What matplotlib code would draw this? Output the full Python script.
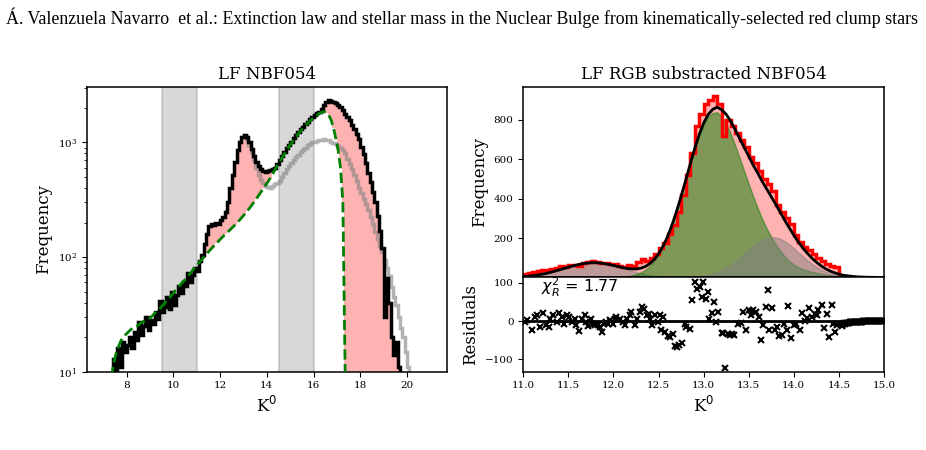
import numpy as np
import matplotlib
matplotlib.use("Agg")
import matplotlib.pyplot as plt

plt.rcParams["font.family"] = "DejaVu Serif"
plt.rcParams["axes.linewidth"] = 1.1
plt.rcParams["xtick.labelsize"] = 7.5
plt.rcParams["ytick.labelsize"] = 7.5

# ---- left panel: luminosity function, bins of 0.1 mag ----
lf_first, lf_width = 7.3, 0.1
lf_counts = [
    8, 13, 10, 16, 11, 18, 15, 17, 20, 16,
    22, 19, 27, 21, 25, 30, 23, 28, 26, 33,
    29, 41, 33, 37, 45, 35, 50, 38, 47, 56,
    49, 60, 56, 72, 61, 70, 80, 76, 92, 105,
    130, 160, 185, 195, 190, 200, 195, 210, 225, 245,
    300, 400, 520, 680, 850, 1000, 1120, 1170, 1120, 1000,
    880, 760, 680, 620, 580, 560, 555, 560, 570, 585,
    600, 645, 700, 760, 820, 885, 950, 1015, 1085, 1155,
    1225, 1300, 1370, 1440, 1515, 1590, 1660, 1725, 1790, 1850,
    1950, 2100, 2250, 2320, 2300, 2270, 2200, 2130, 2040, 1900,
    1780, 1660, 1560, 1430, 1310, 1190, 1060, 920, 790, 660,
    540, 450, 370, 300, 230, 170, 120, 30, 65, 40,
    20, 14, 18, 11, 8,
]
# second (grey) LF, starts at 12.9
lf_grey_first = 12.9
lf_grey = [
    1120, 1150, 1080, 950, 820, 700, 600, 520, 470, 440,
    420, 410, 400, 420, 430, 440, 460, 500, 540, 580,
    620, 660, 700, 740, 780, 820, 860, 900, 940, 970,
    1000, 1010, 1020, 1040, 1050, 1060, 1050, 1040, 1010, 990,
    960, 930, 900, 850, 800, 720, 650, 580, 520, 460,
    400, 360, 320, 290, 255, 225, 195, 165, 145, 125,
    110, 95, 80, 68, 55, 45, 38, 30, 24, 20,
    15, 11, 8,
]
# RGB fit (green dashed), at the bin centres from 7.35
rgb_fit = [
    9, 12, 14.5, 16.5, 18.5, 20, 21, 22, 23, 24,
    24.5, 25, 26, 27, 27.5, 28.5, 29, 30, 31.5, 33,
    34.5, 36, 38, 40, 42, 44.5, 47, 50, 53, 56,
    59, 62, 65, 69, 73, 78, 82, 87, 92, 97,
    102, 108, 114, 120, 126, 132, 139, 146, 153, 160,
    167, 175, 183, 192, 202, 212, 224, 237, 251, 266,
    283, 302, 322, 345, 370, 397, 425, 455, 490, 530,
    580, 630, 680, 735, 795, 855, 920, 985, 1050, 1120,
    1190, 1260, 1330, 1400, 1470, 1540, 1610, 1670, 1730, 1790,
    1830, 1850, 1820, 1720, 1560, 1330, 1080, 850, 600, 300,
    9,
]
masked_bands = [(9.5, 11.0), (14.5, 16.0)]

# ---- right panel: RGB subtracted LF, bins of 0.05 mag ----
rc_first, rc_width = 11.0, 0.05
rc_counts = [
    20, 22, 30, 35, 40, 38, 45, 48, 58, 52,
    62, 65, 60, 72, 80, 84, 80, 72, 76, 68,
    70, 60, 55, 62, 58, 80, 92, 85, 100, 118,
    150, 175, 220, 265, 330, 420, 520, 630, 770, 830,
    880, 900, 920, 880, 720, 800, 770, 735, 700, 660,
    610, 580, 540, 500, 475, 440, 370, 330, 300, 270,
    215, 180, 155, 140, 120, 100, 85, 70, 60, 55,
]
# fitted components on a 0.05 mag grid from 11.0 to 15.0
comp_first, comp_last = 11.0, 15.0
g_faint = [
    4.6, 6.5, 9.0, 12.1, 16.0, 20.6, 26.0, 32.1, 38.6, 45.5,
    52.3, 58.8, 64.6, 69.4, 72.8, 74.7, 74.9, 73.3, 70.2, 65.7,
    60.1, 53.7, 46.9, 40.0, 33.4, 27.2, 21.7, 16.9, 12.8, 9.5,
    6.9, 4.9, 3.4, 2.3, 1.5, 1.0, 0.6, 0.4, 0.2, 0.1,
    0, 0, 0, 0, 0, 0, 0, 0, 0, 0,
    0, 0, 0, 0, 0, 0, 0, 0, 0, 0,
    0, 0, 0, 0, 0, 0, 0, 0, 0, 0,
    0, 0, 0, 0, 0, 0, 0, 0, 0, 0,
    0,
]
g_rc = [
    0, 0, 0, 0, 0, 0, 0, 0, 0, 0,
    0, 0, 0, 0, 0, 0, 0.1, 0.2, 0.4, 0.7,
    1.2, 2.2, 3.7, 6.2, 10, 16, 25, 38, 56, 81,
    113, 154, 204, 265, 334, 410, 490, 571, 649, 718,
    775, 814, 835, 838, 815, 780, 730, 670, 605, 540,
    475, 410, 352, 295, 248, 205, 168, 135, 106, 84,
    66, 52, 42, 35, 29, 24, 19, 15, 12, 9,
    7, 5, 4, 3, 2, 1.5, 1, 0.7, 0.5, 0.3,
    0.2,
]
g_bump = [
    0, 0, 0, 0, 0, 0, 0, 0, 0, 0,
    0, 0, 0, 0, 0, 0, 0, 0, 0, 0,
    0, 0, 0, 0, 0, 0, 0, 0, 0, 0,
    0, 0, 0, 0, 0.4, 0.7, 1.2, 2.1, 3.4, 5.4,
    8.3, 12.5, 18.2, 26.0, 35.9, 48.3, 63.3, 80.6, 99.8, 120,
    141, 160, 178, 192, 201, 205, 203, 196, 184, 168,
    149, 128, 108, 88, 70, 54, 41, 30, 21, 15,
    10, 6.4, 4.1, 2.5, 1.5, 0.9, 0.5, 0.3, 0.2, 0.1,
    0.1,
]
res_k = [
    11.02, 11.04, 11.10, 11.13, 11.155, 11.19, 11.22, 11.25, 11.29, 11.30,
    11.33, 11.37, 11.40, 11.43, 11.45, 11.48, 11.51, 11.54, 11.57, 11.59,
    11.62, 11.65, 11.68, 11.70, 11.72, 11.75, 11.77, 11.79, 11.83, 11.85,
    11.87, 11.89, 11.92, 11.94, 11.96, 11.99, 12.02, 12.03, 12.07, 12.11,
    12.13, 12.15, 12.18, 12.20, 12.24, 12.26, 12.29, 12.32, 12.34, 12.37,
    12.39, 12.41, 12.43, 12.46, 12.49, 12.52, 12.53, 12.55, 12.57, 12.61,
    12.63, 12.66, 12.68, 12.71, 12.73, 12.76, 12.79, 12.81, 12.85, 12.87,
    12.90, 12.93, 12.96, 12.98, 12.99, 13.03, 13.05, 13.06, 13.09, 13.11,
    13.14, 13.16, 13.20, 13.22, 13.24, 13.27, 13.29, 13.31, 13.34, 13.38,
    13.41, 13.44, 13.47, 13.50, 13.53, 13.55, 13.58, 13.61, 13.64, 13.66,
    13.69, 13.71, 13.73, 13.76, 13.79, 13.81, 13.84, 13.87, 13.89, 13.92,
    13.94, 13.97, 14.00, 14.03, 14.07, 14.09, 14.12, 14.15, 14.17, 14.20,
    14.23, 14.26, 14.27, 14.31, 14.34, 14.37, 14.39, 14.42, 14.44, 14.46,
    14.48, 14.51,
]
res_v = [
    -3, 2, -24, 10, 17, -16, 22, -11, -16, 6,
    15, -3, 22, 10, -7, 15, 10, -1, 6, -11,
    -27, 6, 15, -3, -13, 6, -7, -10, -10, -16,
    -29, -7, -3, -7, 2, -7, 6, 10, 6, -3,
    -11, 6, 15, 23, -11, 6, 23, 38, 32, 15,
    19, 6, -11, 15, -3, 15, -22, 10, -29, -38,
    -42, -33, -64, -68, -62, -57, -7, -16, -20, 54,
    102, 84, 89, 63, 102, 58, 76, 6, 22, 51,
    -1, 25, -31, -31, -123, -33, -35, -33, -35, -7,
    -4, 24, -24, 30, 17, 30, 24, 12, -49, -11,
    36, 82, -22, 34, -22, -16, -38, -36, -7, -24,
    39, -43, -11, -7, -22, 22, 0, 7, 35, 12,
    19, 15, 30, 43, -18, 19, -42, 41, -7, -28,
    -11, -7,
]
# residuals beyond the end of the data, 14.53 to 15.0
res_tail = [
    -12, -9, -8, -6, -7, -5, -5, -4, -4, -3,
    -3, -3, -2, -2, -2, -2, -1, -1, -1, -1,
    -1, -1, -1, -1, 0, 0, 0, 0, 0, 0,
    0, 0, 0, 0, 0, 0, 0, 0, 0, 0,
    0, 0, 0, 0, 0, 0, 0, 0,
]
chi2_r = 1.77

# ---- derived arrays ----
lf_counts = np.array(lf_counts, dtype=float)
lf_edges = lf_first + lf_width * np.arange(len(lf_counts) + 1)
lf_centres = lf_edges[:-1] + lf_width / 2
lf_grey = np.array(lf_grey, dtype=float)
grey_edges = lf_grey_first + lf_width * np.arange(len(lf_grey) + 1)
rgb_fit = np.array(rgb_fit, dtype=float)
fit_k = lf_centres[:len(rgb_fit)]
lower = np.full(len(lf_counts), 1.0)
lower[:len(rgb_fit)] = rgb_fit

rc_counts = np.array(rc_counts, dtype=float)
rc_edges = rc_first + rc_width * np.arange(len(rc_counts) + 1)
comp_k = np.linspace(comp_first, comp_last, len(g_rc))
g_faint, g_rc, g_bump = np.array(g_faint), np.array(g_rc), np.array(g_bump)
total = g_faint + g_rc + g_bump
tail_k = np.linspace(14.53, 15.0, len(res_tail))

fig = plt.figure(figsize=(9.26, 4.5), dpi=100)
fig.text(0.006, 0.96,
         "Á. Valenzuela Navarro  et al.: Extinction law and stellar mass in the Nuclear "
         "Bulge from kinematically-selected red clump stars",
         fontfamily="Liberation Serif", fontsize=12.9, ha="left", va="center")

# left: LF
ax1 = fig.add_axes([0.0936, 0.174, 0.389, 0.6327])
for lo, hi in masked_bands:
    ax1.axvspan(lo, hi, color="grey", alpha=0.3, lw=1.5, zorder=0)
ax1.fill_between(lf_centres, lower, lf_counts, where=lf_counts > lower,
                 step="mid", color="red", alpha=0.3, lw=0, zorder=1)
ax1.stairs(lf_grey, grey_edges, baseline=None, color="grey", alpha=0.6, lw=2.5, zorder=2)
ax1.stairs(lf_counts, lf_edges, baseline=None, color="black", lw=2.5, zorder=3)
ax1.plot(fit_k, rgb_fit, "--", color="green", lw=2, zorder=4)
ax1.set_yscale("log")
ax1.set_ylim(10, 3040)
ax1.set_xlim(6.29, 21.7)
ax1.set_xticks(np.arange(8, 21, 2))
ax1.set_title("LF NBF054", fontsize=12)
ax1.set_xlabel("K$^0$", fontsize=12)
ax1.set_ylabel("Frequency", fontsize=12)

# right top: RGB subtracted LF and fit
ax2 = fig.add_axes([0.5651, 0.3851, 0.3895, 0.4209])
ax2.stairs(rc_counts, rc_edges, fill=True, color="red", alpha=0.3, lw=0)
ax2.fill_between(comp_k, 0, g_faint, color="grey", alpha=0.5)
ax2.fill_between(comp_k, 0, g_rc, color="green", alpha=0.5)
ax2.fill_between(comp_k, 0, g_bump, color="grey", alpha=0.5)
ax2.stairs(rc_counts, rc_edges, baseline=0, color="red", lw=2.5)
ax2.plot(comp_k, total, color="black", lw=2)
ax2.set_xlim(11, 15)
ax2.set_ylim(4, 965)
ax2.set_yticks([200, 400, 600, 800])
ax2.tick_params(axis="x", bottom=False, labelbottom=False)
ax2.set_title("LF RGB substracted NBF054", fontsize=12)
ax2.set_ylabel("Frequency", fontsize=12)

# right bottom: residuals
ax3 = fig.add_axes([0.5651, 0.174, 0.3895, 0.2111])
ax3.axhline(0, color="black", lw=2)
ax3.plot(res_k, res_v, "x", color="black", ms=4.5, mew=1.5)
ax3.plot(tail_k, res_tail, "x", color="black", ms=4.5, mew=1.5)
ax3.text(11.2, 88, r"$\chi^2_R$ = %.2f" % chi2_r, fontfamily="DejaVu Sans",
         fontsize=11.5, va="center")
ax3.set_xlim(11, 15)
ax3.set_ylim(-132, 116)
ax3.set_yticks([-100, 0, 100])
ax3.set_xticks(np.arange(11, 15.01, 0.5))
ax3.set_xticklabels(["%.1f" % t for t in np.arange(11, 15.01, 0.5)])
ax3.set_xlabel("K$^0$", fontsize=12)
ax3.set_ylabel("Residuals", fontsize=12)

fig.savefig("out.png", dpi=100)
